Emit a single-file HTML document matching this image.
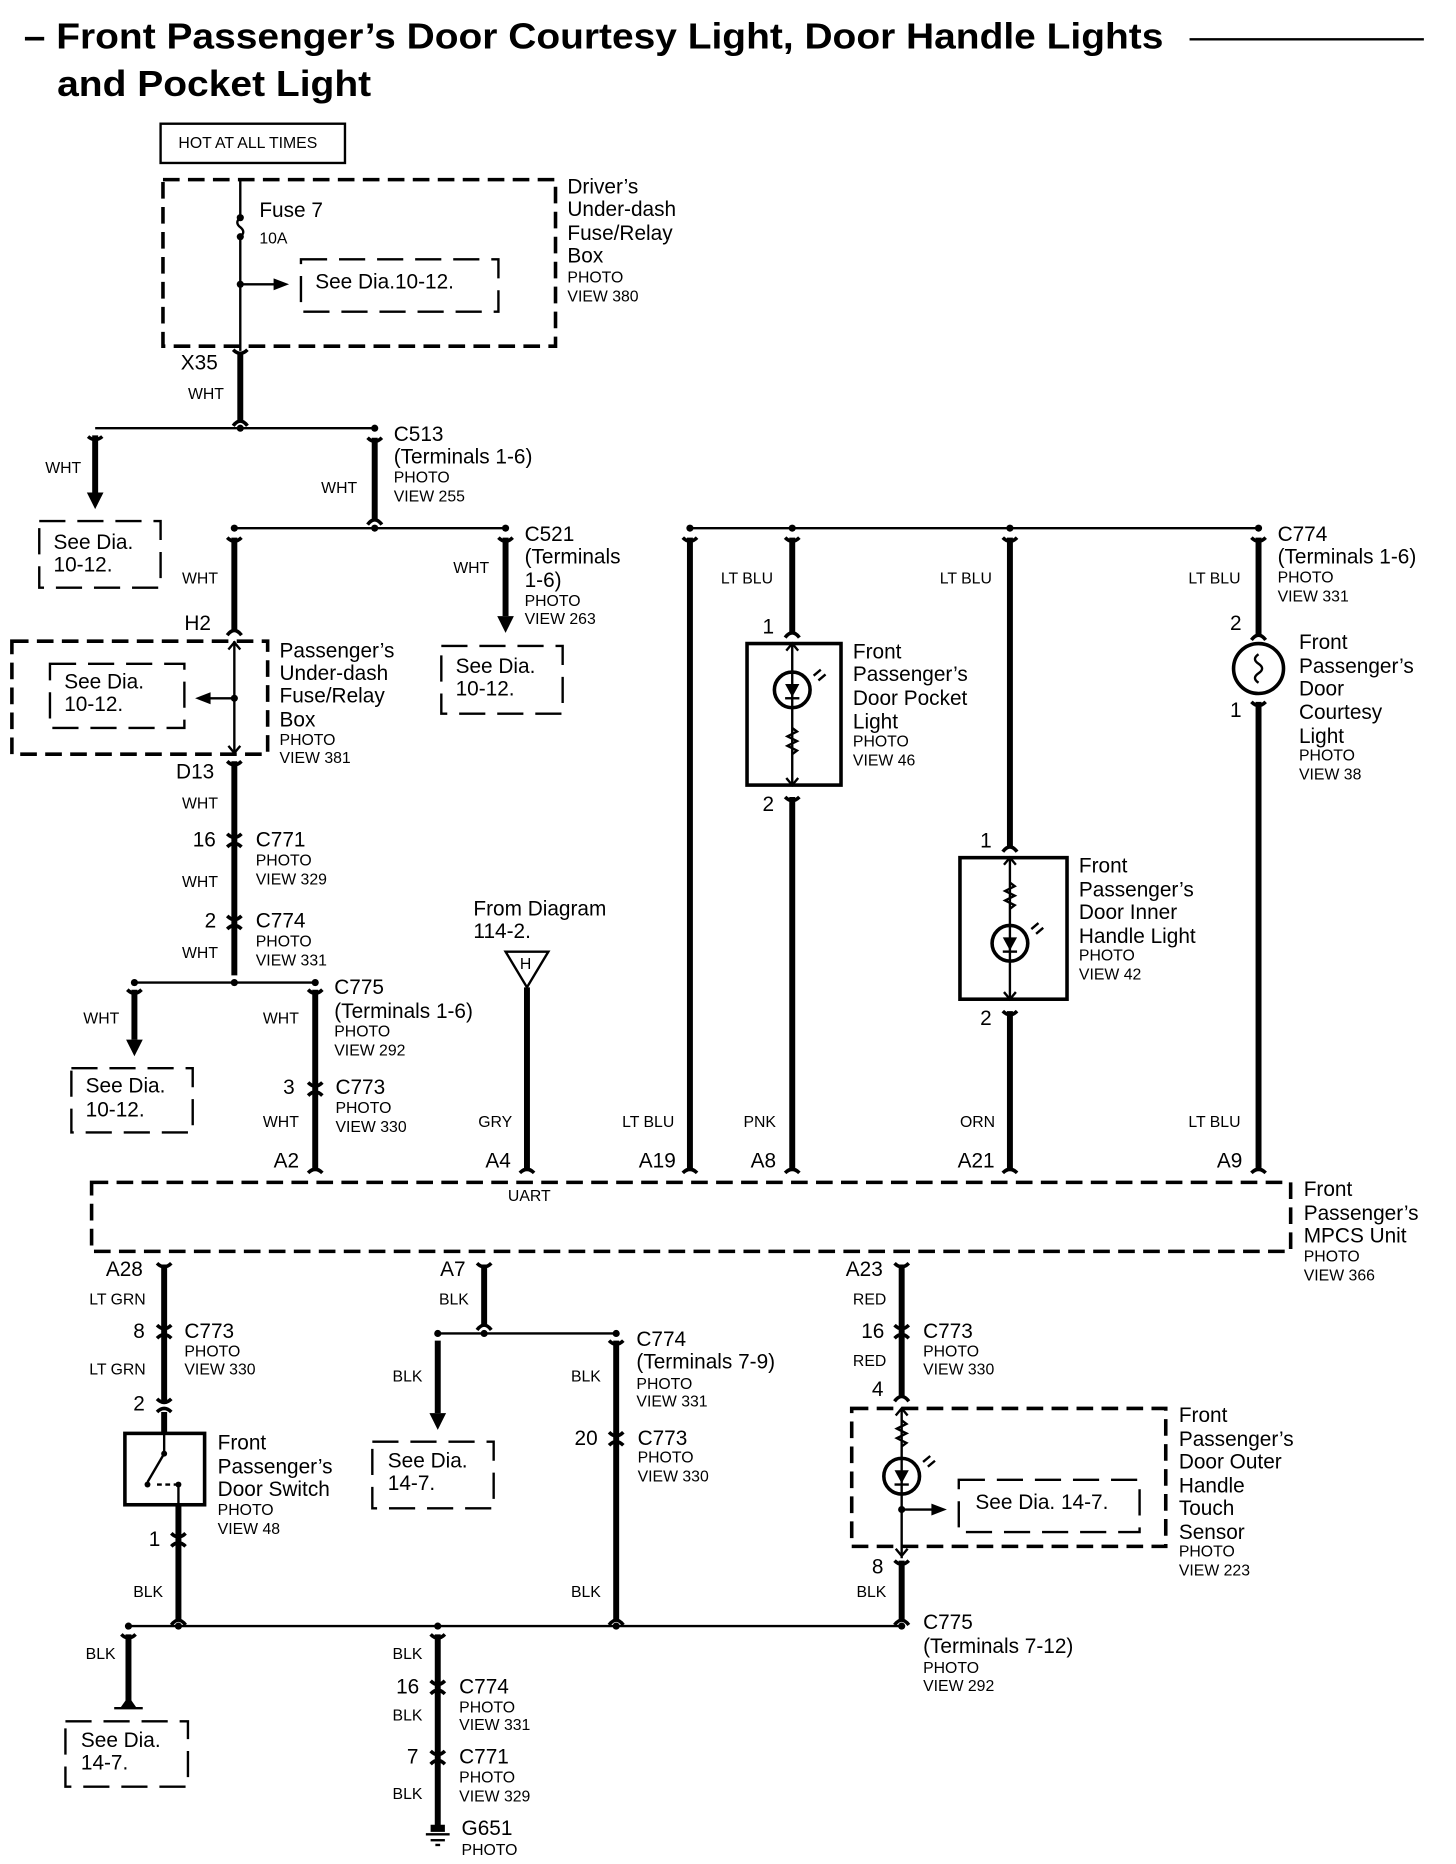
<!DOCTYPE html>
<html><head><meta charset="utf-8"><style>
html,body{margin:0;padding:0;background:#fff;}
svg{display:block;}
text{font-family:"Liberation Sans",Arial,sans-serif;fill:#000;dominant-baseline:middle;}
.b{font-size:17.5px;}
.s{font-size:13.3px;}
.t{font-size:30px;font-weight:bold;}
.w{stroke:#000;stroke-width:5;fill:none;}
.n{stroke:#000;stroke-width:2;fill:none;}
.d{stroke:#000;stroke-width:3;fill:none;stroke-dasharray:14 7;}
.d2{stroke:#000;stroke-width:2;fill:none;stroke-dasharray:22 10;}
.c{stroke:#000;stroke-width:3;fill:none;}
</style></head><body>
<svg width="1456" height="1864" viewBox="0 0 1224 1567" preserveAspectRatio="none" xmlns="http://www.w3.org/2000/svg">
<!-- Title -->
<text x="20" y="33" class="t" textLength="958" lengthAdjust="spacingAndGlyphs">– Front Passenger’s Door Courtesy Light, Door Handle Lights</text>
<text x="48" y="73" class="t" textLength="264" lengthAdjust="spacingAndGlyphs">and Pocket Light</text>
<line x1="1000" y1="33" x2="1197" y2="33" class="n"/>

<!-- Hot box -->
<rect x="135" y="104" width="155" height="33" class="n"/>
<text x="150" y="121" class="s">HOT AT ALL TIMES</text>

<!-- Driver's box -->
<rect x="137" y="151" width="330" height="140" class="d"/>
<line x1="202" y1="151" x2="202" y2="183" class="n"/>
<line x1="202" y1="199" x2="202" y2="295" class="n"/>
<path d="M202 183 q-5 4 0 8 q5 4 0 8" class="n" fill="none"/>
<circle cx="202" cy="183" r="3"/><circle cx="202" cy="199" r="3"/><circle cx="202" cy="239" r="3"/>
<line x1="202" y1="239" x2="232" y2="239" class="n"/><path d="M230 234 L243 239 L230 244Z"/>
<rect x="253" y="218" width="166" height="44" class="d2"/>
<text x="265" y="238" class="b">See Dia.10-12.</text>
<text x="218" y="178" class="b">Fuse 7</text><text x="218" y="201" class="s">10A</text>
<text x="477" y="158" class="b">Driver’s</text><text x="477" y="177" class="b">Under-dash</text>
<text x="477" y="197" class="b">Fuse/Relay</text><text x="477" y="216" class="b">Box</text>
<text x="477" y="234" class="s">PHOTO</text><text x="477" y="250" class="s">VIEW 380</text>

<!-- X35 -->
<text x="152" y="306" class="b">X35</text><text x="158" y="332" class="s">WHT</text>
<line x1="202" y1="298" x2="202" y2="354" class="w"/>
<path d="M196 294 Q202 300 208 294 M196 358 Q202 350 208 358" class="c"/>
<line x1="80" y1="360" x2="315" y2="360" class="n"/>
<circle cx="202" cy="360" r="3"/><circle cx="315" cy="360" r="3"/>
<line x1="80" y1="366" x2="80" y2="414" class="w"/>
<path d="M74 367 Q80 372 86 367" class="c"/><path d="M73 414 L87 414 L80 428Z"/>
<text x="38" y="394" class="s">WHT</text>
<rect x="33" y="438" width="102" height="56" class="d2"/>
<text x="45" y="457" class="b">See Dia.</text><text x="45" y="476" class="b">10-12.</text>
<!-- C513 -->
<line x1="315" y1="368" x2="315" y2="437" class="w"/>
<path d="M309 368 Q315 374 321 368 M309 441 Q315 433 321 441" class="c"/>
<text x="270" y="411" class="s">WHT</text>
<text x="331" y="366" class="b">C513</text><text x="331" y="385" class="b">(Terminals 1-6)</text>
<text x="331" y="402" class="s">PHOTO</text><text x="331" y="418" class="s">VIEW 255</text>
<line x1="197" y1="444" x2="425" y2="444" class="n"/>
<circle cx="197" cy="444" r="3"/><circle cx="315" cy="444" r="3"/><circle cx="425" cy="444" r="3"/>
<!-- C521 -->
<line x1="425" y1="452" x2="425" y2="518" class="w"/>
<path d="M419 452 Q425 458 431 452" class="c"/><path d="M418 518 L432 518 L425 532Z"/>
<text x="381" y="478" class="s">WHT</text>
<text x="441" y="450" class="b">C521</text><text x="441" y="469" class="b">(Terminals</text><text x="441" y="489" class="b">1-6)</text>
<text x="441" y="506" class="s">PHOTO</text><text x="441" y="521" class="s">VIEW 263</text>
<rect x="371" y="543" width="102" height="57" class="d2"/>
<text x="383" y="561" class="b">See Dia.</text><text x="383" y="580" class="b">10-12.</text>
<!-- H2 -->
<line x1="197" y1="452" x2="197" y2="530" class="w"/>
<path d="M191 452 Q197 458 203 452 M191 534 Q197 526 203 534" class="c"/>
<text x="153" y="487" class="s">WHT</text><text x="155" y="525" class="b">H2</text>
<rect x="10" y="539" width="215" height="95" class="d"/>
<line x1="197" y1="539" x2="197" y2="634" class="n"/>
<path d="M192 546 L197 540 L202 546 M192 627 L197 633 L202 627" class="n"/>
<circle cx="197" cy="587" r="3"/>
<line x1="175" y1="587" x2="197" y2="587" class="n"/><path d="M177 582 L164 587 L177 592Z"/>
<rect x="42" y="558" width="113" height="54" class="d2"/>
<text x="54" y="574" class="b">See Dia.</text><text x="54" y="593" class="b">10-12.</text>
<text x="235" y="548" class="b">Passenger’s</text><text x="235" y="567" class="b">Under-dash</text>
<text x="235" y="586" class="b">Fuse/Relay</text><text x="235" y="606" class="b">Box</text>
<text x="235" y="623" class="s">PHOTO</text><text x="235" y="638" class="s">VIEW 381</text>
<!-- D13 down -->
<text x="148" y="650" class="b">D13</text><text x="153" y="676" class="s">WHT</text>
<line x1="197" y1="640" x2="197" y2="820" class="w"/>
<path d="M191 640 Q197 646 203 640" class="c"/>
<path d="M191 701 Q197 707 203 701 M191 712 Q197 706 203 712" class="c"/>
<path d="M191 770 Q197 776 203 770 M191 781 Q197 775 203 781" class="c"/>
<text x="162" y="707" class="b">16</text><text x="215" y="707" class="b">C771</text>
<text x="215" y="724" class="s">PHOTO</text><text x="215" y="740" class="s">VIEW 329</text>
<text x="153" y="742" class="s">WHT</text>
<text x="172" y="775" class="b">2</text><text x="215" y="775" class="b">C774</text>
<text x="215" y="792" class="s">PHOTO</text><text x="215" y="808" class="s">VIEW 331</text>
<text x="153" y="802" class="s">WHT</text>
<line x1="113" y1="826" x2="265" y2="826" class="n"/>
<circle cx="113" cy="826" r="3"/><circle cx="197" cy="826" r="3"/><circle cx="265" cy="826" r="3"/>
<line x1="113" y1="832" x2="113" y2="874" class="w"/>
<path d="M107 832 Q113 838 119 832" class="c"/><path d="M106 874 L120 874 L113 888Z"/>
<text x="70" y="857" class="s">WHT</text>
<rect x="60" y="898" width="102" height="54" class="d2"/>
<text x="72" y="914" class="b">See Dia.</text><text x="72" y="934" class="b">10-12.</text>
<line x1="265" y1="832" x2="265" y2="982" class="w"/>
<path d="M259 832 Q265 838 271 832" class="c"/>
<path d="M259 910 Q265 916 271 910 M259 921 Q265 915 271 921" class="c"/>
<path d="M259 986 Q265 980 271 986" class="c"/>
<text x="221" y="857" class="s">WHT</text>
<text x="281" y="831" class="b">C775</text><text x="281" y="851" class="b">(Terminals 1-6)</text>
<text x="281" y="868" class="s">PHOTO</text><text x="281" y="884" class="s">VIEW 292</text>
<text x="238" y="915" class="b">3</text><text x="282" y="915" class="b">C773</text>
<text x="282" y="932" class="s">PHOTO</text><text x="282" y="948" class="s">VIEW 330</text>
<text x="221" y="944" class="s">WHT</text><text x="230" y="977" class="b">A2</text>

<!-- From diagram -->
<text x="398" y="765" class="b">From Diagram</text><text x="398" y="784" class="b">114-2.</text>
<path d="M425 800 L461 800 L443 830Z" class="n"/>
<text x="437" y="811" class="s">H</text>
<line x1="443" y1="830" x2="443" y2="982" class="w"/>
<path d="M437 986 Q443 980 449 986" class="c"/>
<text x="402" y="944" class="s">GRY</text><text x="408" y="977" class="b">A4</text>

<!-- Right top bus -->
<line x1="580" y1="444" x2="1058" y2="444" class="n"/>
<circle cx="580" cy="444" r="3"/><circle cx="666" cy="444" r="3"/><circle cx="849" cy="444" r="3"/><circle cx="1058" cy="444" r="3"/>
<line x1="580" y1="452" x2="580" y2="982" class="w"/>
<path d="M574 452 Q580 458 586 452 M574 986 Q580 980 586 986" class="c"/>
<text x="523" y="944" class="s">LT BLU</text><text x="537" y="977" class="b">A19</text>
<!-- pocket light -->
<line x1="666" y1="452" x2="666" y2="532" class="w"/>
<path d="M660 452 Q666 458 672 452 M660 536 Q666 528 672 536" class="c"/>
<text x="606" y="487" class="s">LT BLU</text><text x="641" y="528" class="b">1</text>
<rect x="628" y="541" width="79" height="119" class="c" stroke-width="2.5"/>
<line x1="666" y1="541" x2="666" y2="660" class="n"/>
<circle cx="666" cy="580" r="15" class="c"/><path d="M660 575 L672 575 L666 586Z"/><line x1="660" y1="587" x2="672" y2="587" class="n"/>
<path d="M684 568 l6 -5 M688 572 l6 -5" class="n"/>
<path d="M666 612 l4 3 l-8 4 l8 4 l-8 4 l8 4 l-4 3" class="n"/>
<path d="M661 547 L666 541 L671 547 M661 654 L666 660 L671 654" class="n"/>
<line x1="666" y1="670" x2="666" y2="982" class="w"/>
<path d="M660 670 Q666 676 672 670 M660 986 Q666 980 672 986" class="c"/>
<text x="641" y="677" class="b">2</text>
<text x="717" y="549" class="b">Front</text><text x="717" y="568" class="b">Passenger’s</text>
<text x="717" y="588" class="b">Door Pocket</text><text x="717" y="608" class="b">Light</text>
<text x="717" y="624" class="s">PHOTO</text><text x="717" y="640" class="s">VIEW 46</text>
<text x="625" y="944" class="s">PNK</text><text x="631" y="977" class="b">A8</text>
<!-- inner handle -->
<line x1="849" y1="452" x2="849" y2="712" class="w"/>
<path d="M843 452 Q849 458 855 452 M843 716 Q849 708 855 716" class="c"/>
<text x="790" y="487" class="s">LT BLU</text><text x="824" y="708" class="b">1</text>
<rect x="807" y="721" width="90" height="119" class="c" stroke-width="2.5"/>
<line x1="849" y1="721" x2="849" y2="840" class="n"/>
<path d="M849 742 l4 3 l-8 4 l8 4 l-8 4 l8 4 l-4 3" class="n"/>
<circle cx="849" cy="793" r="15" class="c"/><path d="M843 788 L855 788 L849 799Z"/><line x1="843" y1="800" x2="855" y2="800" class="n"/>
<path d="M867 781 l6 -5 M871 785 l6 -5" class="n"/>
<path d="M844 727 L849 721 L854 727 M844 834 L849 840 L854 834" class="n"/>
<line x1="849" y1="850" x2="849" y2="982" class="w"/>
<path d="M843 850 Q849 856 855 850 M843 986 Q849 980 855 986" class="c"/>
<text x="824" y="857" class="b">2</text>
<text x="907" y="729" class="b">Front</text><text x="907" y="749" class="b">Passenger’s</text>
<text x="907" y="768" class="b">Door Inner</text><text x="907" y="788" class="b">Handle Light</text>
<text x="907" y="804" class="s">PHOTO</text><text x="907" y="820" class="s">VIEW 42</text>
<text x="807" y="944" class="s">ORN</text><text x="805" y="977" class="b">A21</text>
<!-- courtesy -->
<line x1="1058" y1="452" x2="1058" y2="534" class="w"/>
<path d="M1052 452 Q1058 458 1064 452 M1052 538 Q1058 530 1064 538" class="c"/>
<circle cx="1058" cy="562" r="21" class="c"/>
<path d="M1058 550 q-6 4 0 8 q6 4 0 8 q-6 4 0 8" class="n"/>
<line x1="1058" y1="590" x2="1058" y2="982" class="w"/>
<path d="M1052 590 Q1058 596 1064 590 M1052 986 Q1058 980 1064 986" class="c"/>
<text x="999" y="487" class="s">LT BLU</text>
<text x="1034" y="525" class="b">2</text><text x="1034" y="598" class="b">1</text>
<text x="1074" y="450" class="b">C774</text><text x="1074" y="469" class="b">(Terminals 1-6)</text>
<text x="1074" y="486" class="s">PHOTO</text><text x="1074" y="502" class="s">VIEW 331</text>
<text x="1092" y="541" class="b">Front</text><text x="1092" y="561" class="b">Passenger’s</text>
<text x="1092" y="580" class="b">Door</text><text x="1092" y="600" class="b">Courtesy</text>
<text x="1092" y="620" class="b">Light</text>
<text x="1092" y="636" class="s">PHOTO</text><text x="1092" y="652" class="s">VIEW 38</text>
<text x="999" y="944" class="s">LT BLU</text><text x="1023" y="977" class="b">A9</text>

<!-- MPCS -->
<rect x="77" y="994" width="1008" height="58" class="d"/>
<text x="427" y="1006" class="s">UART</text>
<text x="1096" y="1001" class="b">Front</text><text x="1096" y="1021" class="b">Passenger’s</text>
<text x="1096" y="1040" class="b">MPCS Unit</text>
<text x="1096" y="1057" class="s">PHOTO</text><text x="1096" y="1073" class="s">VIEW 366</text>

<!-- A28 -->
<text x="89" y="1068" class="b">A28</text><text x="75" y="1093" class="s">LT GRN</text>
<line x1="138" y1="1063" x2="138" y2="1180" class="w"/>
<path d="M132 1062 Q138 1068 144 1062" class="c"/>
<path d="M132 1114 Q138 1120 144 1114 M132 1125 Q138 1119 144 1125" class="c"/>
<path d="M132 1176 Q138 1182 144 1176 M132 1187 Q138 1181 144 1187" class="c"/>
<text x="112" y="1120" class="b">8</text><text x="155" y="1120" class="b">C773</text>
<text x="155" y="1137" class="s">PHOTO</text><text x="155" y="1152" class="s">VIEW 330</text>
<text x="75" y="1152" class="s">LT GRN</text><text x="112" y="1181" class="b">2</text>
<line x1="138" y1="1187" x2="138" y2="1205" class="w"/>
<rect x="105" y="1205" width="67" height="60" class="c" stroke-width="2.5"/>
<line x1="138" y1="1205" x2="138" y2="1222" class="n"/><circle cx="138" cy="1222" r="2.5"/>
<line x1="138" y1="1222" x2="124" y2="1246" class="n"/><circle cx="124" cy="1248" r="2.5"/>
<line x1="132" y1="1248" x2="150" y2="1248" class="n" stroke-dasharray="4 3"/><circle cx="150" cy="1248" r="2.5"/>
<line x1="150" y1="1248" x2="150" y2="1265" class="n"/>
<text x="183" y="1214" class="b">Front</text><text x="183" y="1234" class="b">Passenger’s</text>
<text x="183" y="1253" class="b">Door Switch</text>
<text x="183" y="1270" class="s">PHOTO</text><text x="183" y="1286" class="s">VIEW 48</text>
<line x1="150" y1="1265" x2="150" y2="1362" class="w"/>
<path d="M144 1289 Q150 1295 156 1289 M144 1300 Q150 1294 156 1300" class="c"/>
<path d="M144 1366 Q150 1358 156 1366" class="c"/>
<text x="125" y="1295" class="b">1</text><text x="112" y="1339" class="s">BLK</text>

<!-- A7 -->
<text x="370" y="1068" class="b">A7</text><text x="369" y="1093" class="s">BLK</text>
<line x1="407" y1="1063" x2="407" y2="1114" class="w"/>
<path d="M401 1062 Q407 1068 413 1062 M401 1118 Q407 1110 413 1118" class="c"/>
<line x1="368" y1="1121" x2="518" y2="1121" class="n"/>
<circle cx="368" cy="1121" r="3"/><circle cx="407" cy="1121" r="3"/><circle cx="518" cy="1121" r="3"/>
<line x1="368" y1="1127" x2="368" y2="1188" class="w"/><path d="M361 1188 L375 1188 L368 1202Z"/>
<text x="330" y="1158" class="s">BLK</text>
<rect x="313" y="1212" width="102" height="56" class="d2"/>
<text x="326" y="1229" class="b">See Dia.</text><text x="326" y="1248" class="b">14-7.</text>
<line x1="518" y1="1127" x2="518" y2="1362" class="w"/>
<path d="M512 1127 Q518 1133 524 1127" class="c"/>
<path d="M512 1204 Q518 1210 524 1204 M512 1215 Q518 1209 524 1215" class="c"/>
<path d="M512 1366 Q518 1358 524 1366" class="c"/>
<text x="480" y="1158" class="s">BLK</text>
<text x="535" y="1127" class="b">C774</text><text x="535" y="1146" class="b">(Terminals 7-9)</text>
<text x="535" y="1164" class="s">PHOTO</text><text x="535" y="1179" class="s">VIEW 331</text>
<text x="483" y="1210" class="b">20</text><text x="536" y="1210" class="b">C773</text>
<text x="536" y="1226" class="s">PHOTO</text><text x="536" y="1242" class="s">VIEW 330</text>
<text x="480" y="1339" class="s">BLK</text>

<!-- A23 -->
<text x="711" y="1068" class="b">A23</text><text x="717" y="1093" class="s">RED</text>
<line x1="758" y1="1063" x2="758" y2="1175" class="w"/>
<path d="M752 1062 Q758 1068 764 1062" class="c"/>
<path d="M752 1114 Q758 1120 764 1114 M752 1125 Q758 1119 764 1125" class="c"/>
<path d="M752 1178 Q758 1170 764 1178" class="c"/>
<text x="724" y="1120" class="b">16</text><text x="776" y="1120" class="b">C773</text>
<text x="776" y="1137" class="s">PHOTO</text><text x="776" y="1152" class="s">VIEW 330</text>
<text x="717" y="1145" class="s">RED</text><text x="733" y="1169" class="b">4</text>
<rect x="716" y="1184" width="264" height="116" class="d"/>
<line x1="758" y1="1184" x2="758" y2="1310" class="n"/>
<path d="M753 1190 L758 1184 L763 1190 M753 1302 L758 1308 L763 1302" class="n"/>
<path d="M758 1194 l4 3 l-8 4 l8 4 l-8 4 l8 4 l-4 3" class="n"/>
<circle cx="758" cy="1241" r="15" class="c"/><path d="M752 1236 L764 1236 L758 1247Z"/><line x1="752" y1="1248" x2="764" y2="1248" class="n"/>
<path d="M776 1229 l6 -5 M780 1233 l6 -5" class="n"/>
<circle cx="758" cy="1269" r="3"/>
<line x1="758" y1="1269" x2="785" y2="1269" class="n"/><path d="M783 1264 L796 1269 L783 1274Z"/>
<rect x="806" y="1244" width="152" height="44" class="d2"/>
<text x="820" y="1264" class="b">See Dia. 14-7.</text>
<text x="991" y="1191" class="b">Front</text><text x="991" y="1211" class="b">Passenger’s</text>
<text x="991" y="1230" class="b">Door Outer</text><text x="991" y="1250" class="b">Handle</text>
<text x="991" y="1269" class="b">Touch</text><text x="991" y="1289" class="b">Sensor</text>
<text x="991" y="1305" class="s">PHOTO</text><text x="991" y="1321" class="s">VIEW 223</text>
<line x1="758" y1="1312" x2="758" y2="1362" class="w"/>
<path d="M752 1312 Q758 1318 764 1312 M752 1366 Q758 1358 764 1366" class="c"/>
<text x="733" y="1318" class="b">8</text><text x="720" y="1339" class="s">BLK</text>

<!-- bottom bus -->
<line x1="108" y1="1367" x2="758" y2="1367" class="n"/>
<circle cx="108" cy="1367" r="3"/><circle cx="150" cy="1367" r="3"/><circle cx="368" cy="1367" r="3"/><circle cx="518" cy="1367" r="3"/><circle cx="758" cy="1367" r="3"/>
<text x="776" y="1365" class="b">C775</text><text x="776" y="1385" class="b">(Terminals 7-12)</text>
<text x="776" y="1403" class="s">PHOTO</text><text x="776" y="1418" class="s">VIEW 292</text>
<line x1="108" y1="1374" x2="108" y2="1432" class="w"/>
<path d="M102 1374 Q108 1380 114 1374" class="c"/><path d="M101 1436 L115 1436 L108 1426Z"/>
<line x1="96" y1="1436" x2="120" y2="1436" class="n" stroke-width="3"/>
<text x="72" y="1391" class="s">BLK</text>
<rect x="55" y="1447" width="103" height="55" class="d2"/>
<text x="68" y="1464" class="b">See Dia.</text><text x="68" y="1483" class="b">14-7.</text>
<line x1="368" y1="1374" x2="368" y2="1538" class="w"/>
<path d="M362 1374 Q368 1380 374 1374" class="c"/>
<path d="M362 1413 Q368 1419 374 1413 M362 1424 Q368 1418 374 1424" class="c"/>
<path d="M362 1472 Q368 1478 374 1472 M362 1483 Q368 1477 374 1483" class="c"/>
<text x="330" y="1391" class="s">BLK</text>
<text x="333" y="1419" class="b">16</text><text x="386" y="1419" class="b">C774</text>
<text x="386" y="1436" class="s">PHOTO</text><text x="386" y="1451" class="s">VIEW 331</text>
<text x="330" y="1443" class="s">BLK</text>
<text x="342" y="1478" class="b">7</text><text x="386" y="1478" class="b">C771</text>
<text x="386" y="1495" class="s">PHOTO</text><text x="386" y="1511" class="s">VIEW 329</text>
<text x="330" y="1509" class="s">BLK</text>
<path d="M362 1534 L374 1534 L374 1540 L362 1540Z"/>
<line x1="358" y1="1542" x2="378" y2="1542" class="n" stroke-width="2.5"/>
<line x1="362" y1="1547" x2="374" y2="1547" class="n" stroke-width="2"/>
<line x1="366" y1="1551" x2="370" y2="1551" class="n" stroke-width="2"/>
<text x="388" y="1538" class="b">G651</text><text x="388" y="1556" class="s">PHOTO</text>
</svg>
</body></html>
